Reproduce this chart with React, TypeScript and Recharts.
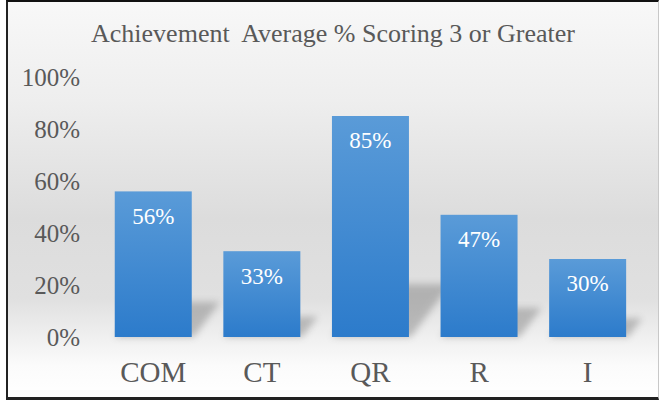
import React from "react";
import { BarChart, Bar, XAxis, YAxis, LabelList } from "recharts";

const categories = ["COM", "CT", "QR", "R", "I"];
const values = [56, 33, 85, 47, 30];
const yTicks = [0, 20, 40, 60, 80, 100];
const title = "Achievement  Average % Scoring 3 or Greater";

const data = categories.map((c, i) => ({ name: c, value: values[i] }));

const FONT = "'Liberation Serif', 'DejaVu Serif', serif";

const ShadowBar = (props: any) => {
  const { x, y, width, height } = props;
  if (height <= 0) return null;
  const bottom = y + height;
  const sh = height * 0.24;
  const sx = sh * 0.75;
  const pts = [
    [x, bottom],
    [x + width + 2, bottom],
    [x + width + 2 + sx, bottom - sh],
    [x + sx, bottom - sh],
  ]
    .map((p) => p.join(","))
    .join(" ");
  return (
    <g>
      <polygon points={pts} fill="#7a7a7a" opacity={0.45} filter="url(#shadowBlur)" />
      <rect x={x} y={y} width={width} height={height} fill="url(#barGrad)" />
    </g>
  );
};

const BarLabel = (props: any) => {
  const { x, y, width, value } = props;
  return (
    <text
      x={x + width / 2}
      y={y + 16}
      dy="0.71em"
      textAnchor="middle"
      fill="#ffffff"
      fontSize={23}
      fontFamily={FONT}
    >
      {`${value}%`}
    </text>
  );
};

export default function App() {
  return (
    <div
      style={{
        position: "absolute",
        left: 0,
        top: 0,
        width: 660,
        height: 400,
        background: "#ffffff",
        overflow: "hidden",
      }}
    >
      <div
        style={{
          position: "absolute",
          left: 6,
          top: 0,
          width: 650,
          height: 395,
          borderTop: "2px solid #111",
          borderLeft: "2px solid #222",
          borderBottom: "3px solid #222",
          borderRight: "1px solid #c8c8c8",
          background:
            "linear-gradient(to bottom, #f8f8f8 0%, #eeeeee 25%, #dcdcdc 55%, #e0e0e0 75%, #fbfbfb 92%, #ffffff 100%)",
        }}
      >
        <div
          style={{
            position: "absolute",
            left: 0,
            top: 17,
            width: 650,
            textAlign: "center",
            fontFamily: FONT,
            fontSize: 26,
            color: "#595959",
            whiteSpace: "pre",
          }}
        >
          {title}
        </div>
        <BarChart
          width={650}
          height={395}
          data={data}
          margin={{ top: 75, right: 16, bottom: 0, left: 0 }}
          barCategoryGap="14.5%"
        >
          <defs>
            <linearGradient id="barGrad" x1="0" y1="0" x2="0" y2="1">
              <stop offset="0%" stopColor="#5a9bd8" />
              <stop offset="100%" stopColor="#2c7bcb" />
            </linearGradient>
            <filter id="shadowBlur" x="-50%" y="-50%" width="200%" height="200%">
              <feGaussianBlur stdDeviation="3.5" />
            </filter>
          </defs>
          <XAxis
            dataKey="name"
            axisLine={false}
            tickLine={false}
            tickSize={0}
            tickMargin={24}
            height={60}
            tick={{ fill: "#595959", fontSize: 29, fontFamily: FONT }}
          />
          <YAxis
            domain={[0, 100]}
            ticks={yTicks}
            tickFormatter={(v: number) => `${v}%`}
            axisLine={false}
            tickLine={false}
            tickSize={0}
            tickMargin={19}
            width={91}
            tick={{ fill: "#595959", fontSize: 25, fontFamily: FONT }}
          />
          <Bar dataKey="value" shape={ShadowBar} isAnimationActive={false}>
            <LabelList dataKey="value" content={BarLabel} />
          </Bar>
        </BarChart>
      </div>
    </div>
  );
}
